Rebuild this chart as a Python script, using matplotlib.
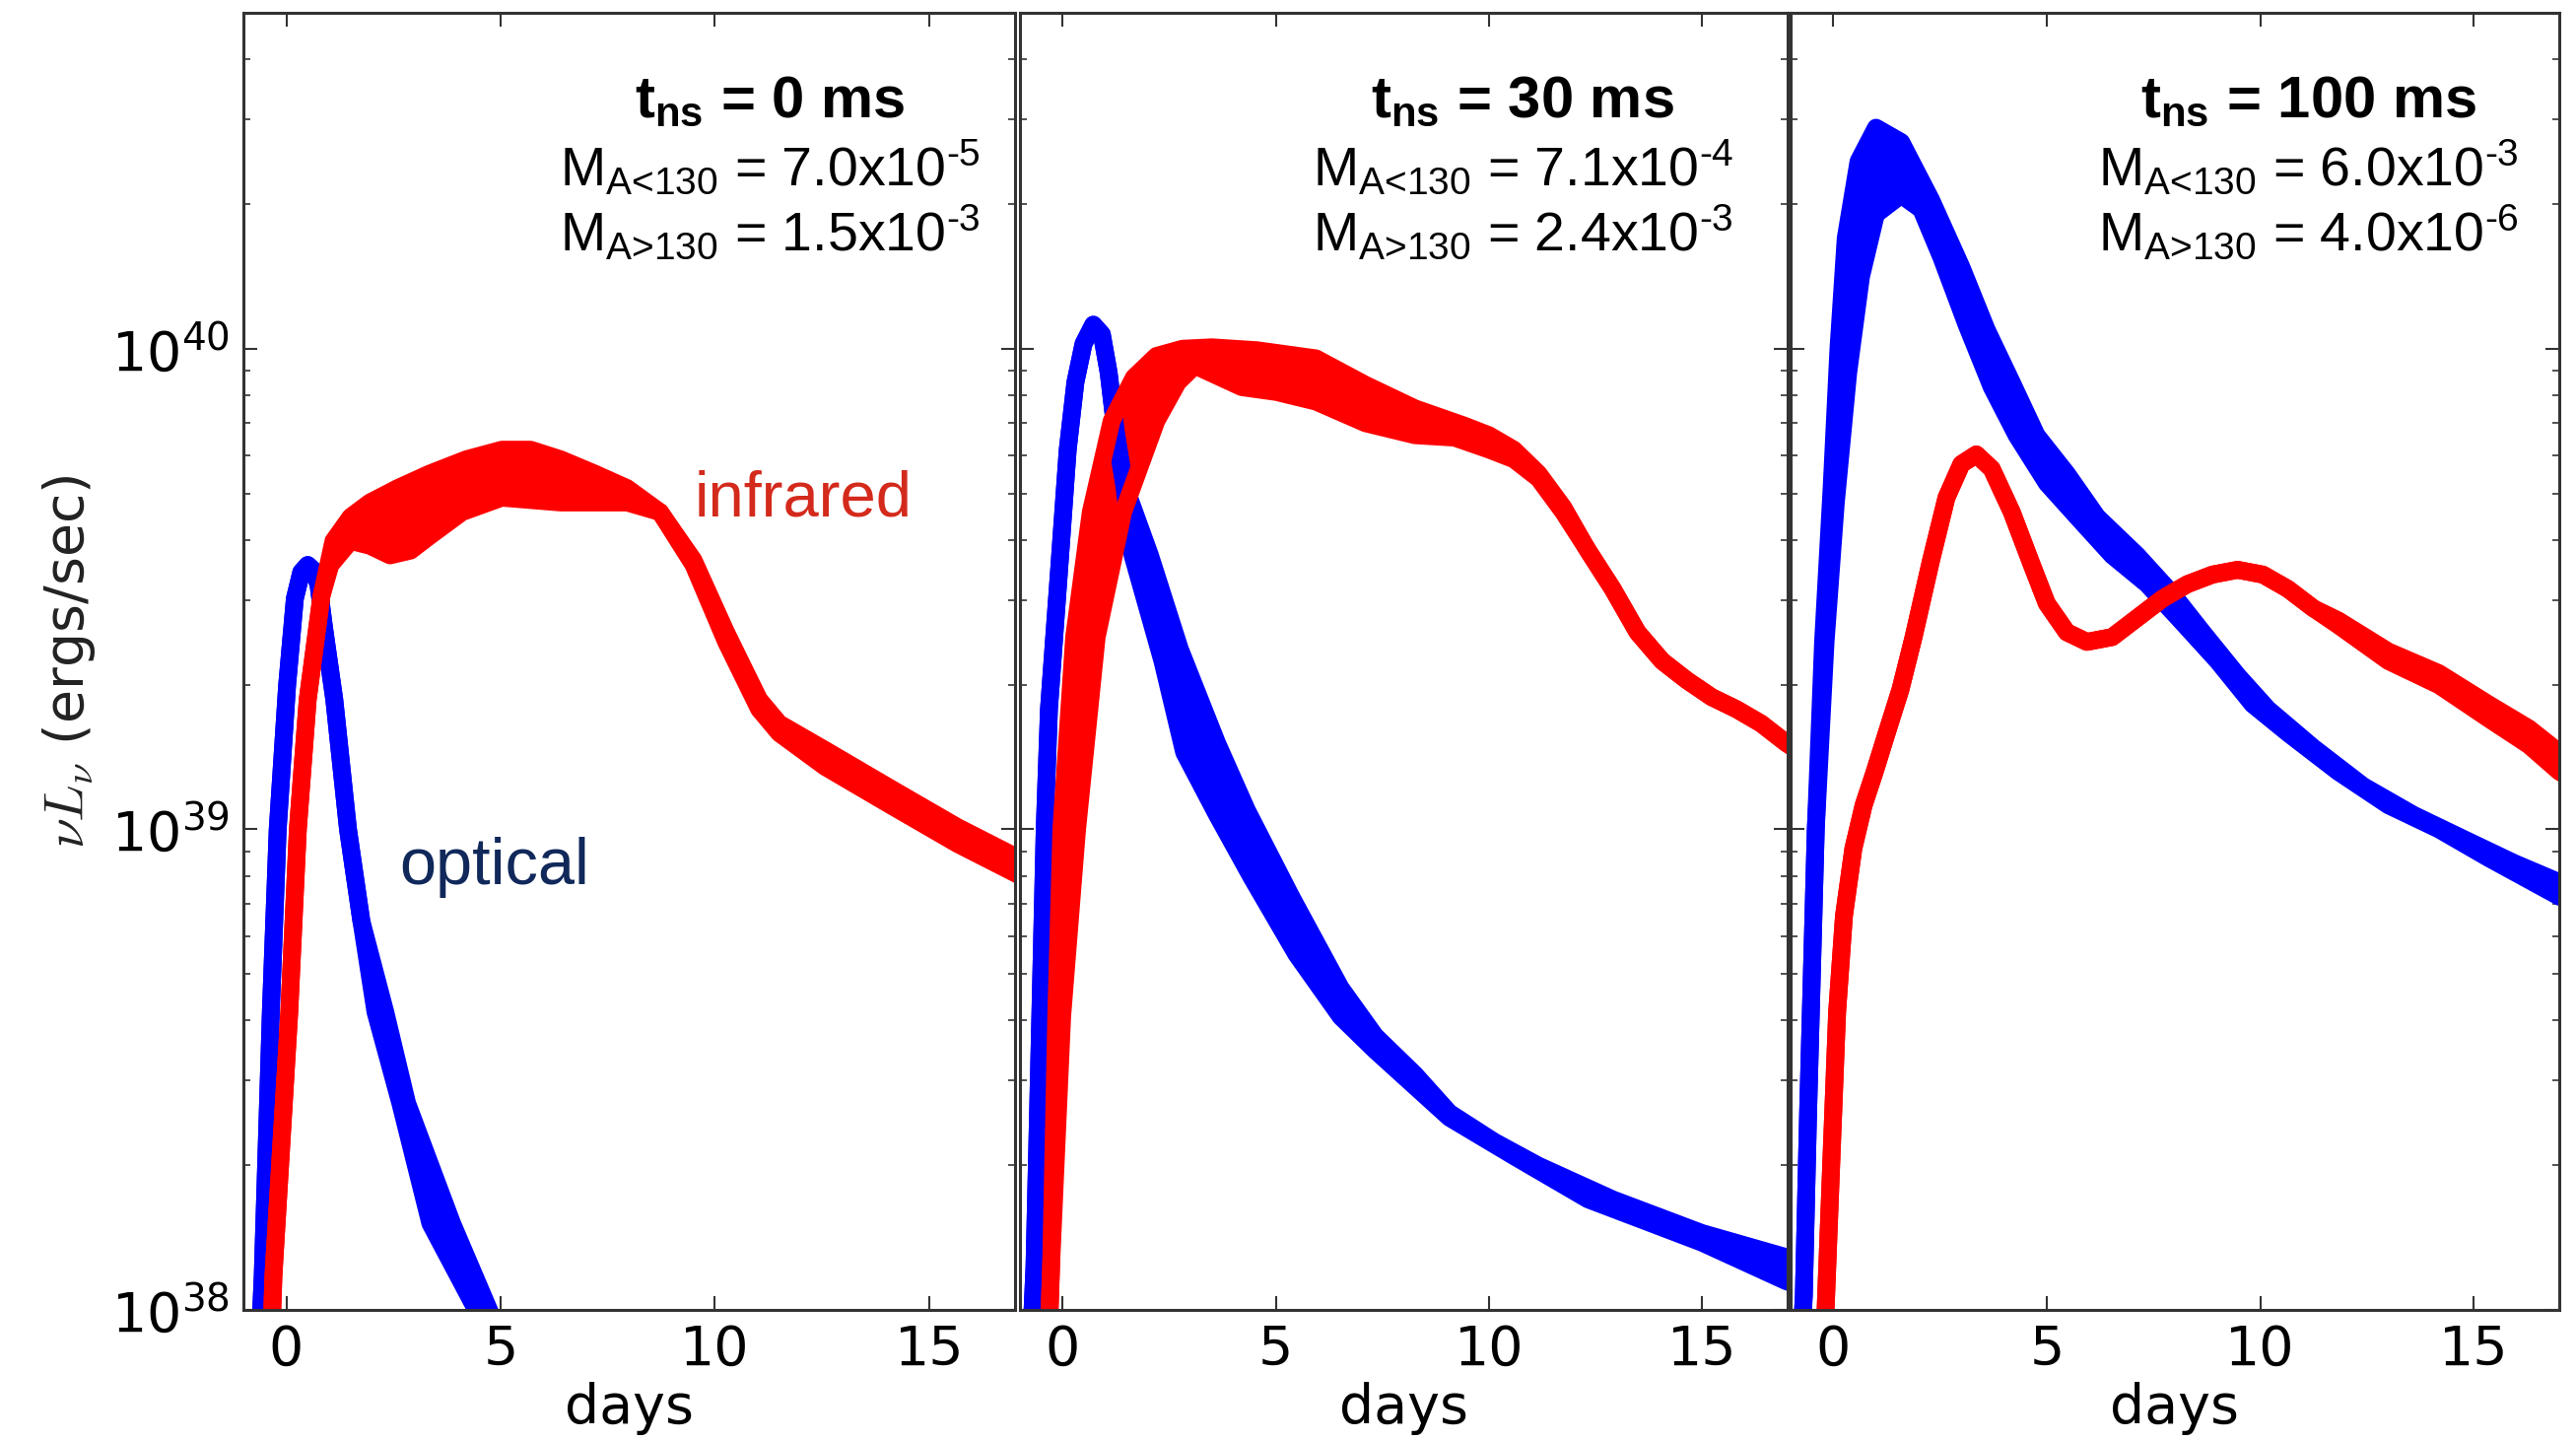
import numpy as np
import matplotlib
matplotlib.use('Agg')
import matplotlib.pyplot as plt
from matplotlib.ticker import FixedLocator

plt.rcParams['mathtext.fontset'] = 'custom'
plt.rcParams['mathtext.rm'] = 'Liberation Sans'
plt.rcParams['mathtext.bf'] = 'Liberation Sans:bold'
plt.rcParams['mathtext.it'] = 'Liberation Sans:italic'

# ---- data: days, log10(nu L_nu) ----
# each band = upper edge curve and lower edge curve

# t_ns = 0 ms
p1_blue_up_x = [-0.66, -0.55, -0.36, -0.2, 0.02, 0.2, 0.35, 0.5, 0.62, 0.75, 0.88, 1.12, 1.44, 1.75, 2.31, 2.82, 3.87, 4.73, 5.2]
p1_blue_up_y = [37.85, 38.07, 38.62, 39.0, 39.3, 39.48, 39.535, 39.55, 39.54, 39.51, 39.42, 39.27, 39.0, 38.81, 38.62, 38.43, 38.18, 38.0, 37.9]
p1_blue_lo_x = [-0.66, -0.55, -0.36, -0.2, 0.02, 0.2, 0.35, 0.5, 0.62, 0.75, 0.88, 1.12, 1.44, 1.75, 2.08, 2.66, 3.36, 4.43, 4.8]
p1_blue_lo_y = [37.85, 38.07, 38.62, 39.0, 39.3, 39.48, 39.535, 39.55, 39.54, 39.51, 39.42, 39.27, 39.0, 38.81, 38.62, 38.43, 38.18, 38.0, 37.9]

p1_red_up_x = [-0.38, -0.30, 0.07, 0.27, 0.5, 0.82, 1.1, 1.5, 1.95, 2.6, 3.34, 4.2, 5.03, 5.7, 6.4, 7.2, 7.95, 8.72, 9.5, 10.26, 11.03, 11.5, 12.57, 14.1, 15.65, 17.3]
p1_red_up_y = [37.85, 38.07, 38.62, 39.0, 39.27, 39.485, 39.60, 39.65, 39.68, 39.71, 39.74, 39.77, 39.79, 39.79, 39.77, 39.74, 39.71, 39.66, 39.56, 39.41, 39.27, 39.22, 39.165, 39.085, 39.005, 38.93]
p1_red_lo_x = [-0.38, -0.30, 0.07, 0.27, 0.5, 0.82, 1.03, 1.5, 1.95, 2.42, 2.9, 3.34, 4.1, 5.03, 6.4, 7.95, 8.72, 9.5, 10.26, 11.03, 11.5, 12.57, 14.1, 15.65, 17.3]
p1_red_lo_y = [37.85, 38.07, 38.62, 39.0, 39.27, 39.485, 39.55, 39.60, 39.59, 39.57, 39.58, 39.61, 39.66, 39.69, 39.68, 39.68, 39.66, 39.55, 39.39, 39.25, 39.20, 39.13, 39.05, 38.97, 38.895]

# t_ns = 30 ms
p2_blue_up_x = [-0.78, -0.66, -0.42, -0.32, -0.09, 0.12, 0.3, 0.49, 0.72, 0.92, 1.08, 1.24, 1.44, 2.05, 2.75, 3.62, 4.32, 5.36, 6.52, 7.33, 8.26, 9.07, 10.12, 11.16, 12.9, 14.99, 16.96, 17.3]
p2_blue_up_y = [37.85, 38.09, 39.0, 39.25, 39.53, 39.79, 39.93, 40.01, 40.05, 40.03, 39.95, 39.83, 39.72, 39.57, 39.375, 39.18, 39.04, 38.86, 38.67, 38.57, 38.49, 38.41, 38.35, 38.30, 38.23, 38.16, 38.11, 38.10]
p2_blue_lo_x = [-0.78, -0.66, -0.42, -0.32, -0.09, 0.12, 0.3, 0.49, 0.72, 0.92, 1.08, 1.24, 1.44, 1.64, 2.34, 2.85, 3.62, 4.43, 5.48, 6.52, 7.33, 9.07, 10.58, 12.32, 14.99, 16.96, 17.3]
p2_blue_lo_y = [37.85, 38.09, 39.0, 39.25, 39.53, 39.79, 39.93, 40.01, 40.05, 40.03, 39.95, 39.83, 39.72, 39.57, 39.35, 39.16, 39.03, 38.90, 38.74, 38.61, 38.54, 38.40, 38.32, 38.23, 38.14, 38.06, 38.05]

p2_red_up_x = [-0.36, -0.27, -0.15, -0.03, 0.27, 0.66, 1.15, 1.67, 2.2, 2.81, 3.50, 4.55, 5.94, 7.10, 8.26, 9.42, 10.0, 10.58, 11.16, 11.74, 12.32, 12.90, 13.48, 14.06, 14.64, 15.22, 15.80, 16.38, 16.96, 17.3]
p2_red_up_y = [37.85, 38.09, 38.61, 39.0, 39.40, 39.66, 39.85, 39.94, 39.985, 40.0, 40.003, 39.997, 39.98, 39.925, 39.876, 39.84, 39.82, 39.79, 39.74, 39.67, 39.58, 39.50, 39.41, 39.35, 39.31, 39.275, 39.25, 39.22, 39.18, 39.16]
p2_red_lo_x = [-0.36, -0.27, -0.01, 0.34, 0.80, 1.42, 2.2, 2.7, 3.1, 4.20, 5.01, 5.94, 7.10, 8.26, 9.19, 10.0, 10.58, 11.16, 11.74, 12.32, 12.90, 13.48, 14.06, 14.64, 15.22, 15.80, 16.38, 16.96, 17.3]
p2_red_lo_y = [37.85, 38.09, 38.61, 39.0, 39.40, 39.66, 39.85, 39.93, 39.965, 39.92, 39.91, 39.89, 39.845, 39.82, 39.815, 39.79, 39.77, 39.73, 39.66, 39.58, 39.50, 39.41, 39.35, 39.31, 39.275, 39.25, 39.22, 39.18, 39.16]

# t_ns = 100 ms
p3_blue_up_x = [-0.8, -0.69, -0.59, -0.41, -0.24, -0.04, 0.12, 0.29, 0.59, 1.0, 1.59, 2.29, 3.0, 3.59, 4.18, 4.76, 5.47, 6.18, 7.12, 7.94, 8.65, 9.47, 10.18, 11.24, 12.41, 13.59, 14.76, 15.94, 17.0, 17.3]
p3_blue_up_y = [37.85, 38.03, 38.41, 39.0, 39.39, 39.71, 40.0, 40.23, 40.39, 40.46, 40.43, 40.31, 40.17, 40.04, 39.93, 39.82, 39.74, 39.65, 39.57, 39.49, 39.41, 39.32, 39.25, 39.17, 39.09, 39.03, 38.98, 38.93, 38.89, 38.88]
p3_blue_lo_x = [-0.8, -0.69, -0.59, -0.41, -0.18, 0.06, 0.35, 0.65, 1.0, 1.59, 2.06, 2.53, 3.12, 3.71, 4.29, 5.0, 5.71, 6.53, 7.35, 8.18, 9.0, 9.82, 10.65, 11.82, 13.0, 14.18, 15.35, 17.0, 17.3]
p3_blue_lo_y = [37.85, 38.03, 38.41, 39.0, 39.39, 39.68, 39.95, 40.15, 40.28, 40.32, 40.29, 40.19, 40.05, 39.92, 39.82, 39.72, 39.65, 39.57, 39.51, 39.43, 39.35, 39.26, 39.20, 39.12, 39.05, 39.0, 38.94, 38.86, 38.85]

p3_red_up_x = [-0.25, -0.18, -0.05, 0.09, 0.25, 0.47, 0.71, 0.97, 1.25, 1.57, 1.88, 2.29, 2.65, 3.0, 3.35, 3.71, 4.18, 4.65, 5.0, 5.47, 5.94, 6.53, 7.12, 7.71, 8.29, 8.88, 9.47, 10.06, 10.65, 11.24, 11.82, 13.0, 14.18, 15.35, 16.29, 17.0, 17.3]
p3_red_up_y = [37.85, 38.0, 38.3, 38.62, 38.82, 38.96, 39.05, 39.12, 39.2, 39.29, 39.40, 39.56, 39.69, 39.76, 39.78, 39.75, 39.66, 39.55, 39.47, 39.41, 39.39, 39.40, 39.44, 39.48, 39.51, 39.53, 39.54, 39.53, 39.50, 39.46, 39.435, 39.37, 39.325, 39.26, 39.21, 39.16, 39.15]
p3_red_lo_x = p3_red_up_x
p3_red_lo_y = [37.85, 38.0, 38.3, 38.62, 38.82, 38.96, 39.05, 39.12, 39.2, 39.29, 39.40, 39.56, 39.69, 39.76, 39.78, 39.75, 39.66, 39.55, 39.47, 39.41, 39.39, 39.40, 39.44, 39.48, 39.51, 39.53, 39.54, 39.53, 39.50, 39.46, 39.425, 39.35, 39.30, 39.23, 39.175, 39.12, 39.105]

titles = ['0', '30', '100']
m_low = ['7.0x10$^{\\text{-5}}$', '7.1x10$^{\\text{-4}}$', '6.0x10$^{\\text{-3}}$']
m_high = ['1.5x10$^{\\text{-3}}$', '2.4x10$^{\\text{-3}}$', '4.0x10$^{\\text{-6}}$']
xticks = [0, 5, 10, 15]

panels = [
    (p1_blue_up_x, p1_blue_up_y, p1_blue_lo_x, p1_blue_lo_y, p1_red_up_x, p1_red_up_y, p1_red_lo_x, p1_red_lo_y),
    (p2_blue_up_x, p2_blue_up_y, p2_blue_lo_x, p2_blue_lo_y, p2_red_up_x, p2_red_up_y, p2_red_lo_x, p2_red_lo_y),
    (p3_blue_up_x, p3_blue_up_y, p3_blue_lo_x, p3_blue_lo_y, p3_red_up_x, p3_red_up_y, p3_red_lo_x, p3_red_lo_y),
]

# layout
W, H = 2614, 1462
lefts = [247, 1035, 1817]
widths = [783, 779, 780]
top_px, bot_px = 13, 1329
text_cx = [0.682, 0.655, 0.674]

fig = plt.figure(figsize=(W / 100, H / 100), dpi=100)

def band(ax, ux, uy, lx, ly, color, lw=13):
    ux, uy, lx, ly = map(np.asarray, (ux, uy, lx, ly))
    ax.fill(np.r_[ux, lx[::-1]], 10 ** np.r_[uy, ly[::-1]], color=color, lw=0)
    for x, y in ((ux, uy), (lx, ly)):
        ax.plot(x, 10 ** y, color=color, lw=lw, solid_capstyle='round', solid_joinstyle='round')

for i, p in enumerate(panels):
    ax = fig.add_axes([lefts[i] / W, 1 - bot_px / H, widths[i] / W, (bot_px - top_px) / H])
    band(ax, p[0], p[1], p[2], p[3], 'blue')
    band(ax, p[4], p[5], p[6], p[7], 'red')
    ax.set_yscale('log')
    ax.set_xlim(-1, 17)
    ax.set_ylim(1e38, 5e40)
    ax.xaxis.set_major_locator(FixedLocator(xticks))
    ax.tick_params(which='both', direction='in', top=True, right=True, colors='#333333')
    ax.tick_params(which='major', length=10, width=1.5, labelsize=40, pad=10, labelcolor='black')
    ax.tick_params(which='minor', length=5, width=1.2)
    for s in ax.spines.values():
        s.set_linewidth(2.2)
        s.set_color('#333333')
    ax.set_xlabel('days', fontsize=40, labelpad=4)
    if i == 0:
        ax.set_ylabel(r'$\nu L_\nu$ (ergs/sec)', fontsize=40, color='#222222', labelpad=10, math_fontfamily='cm')
        ax.text(0.585, 0.612, 'infrared', transform=ax.transAxes, fontsize=47, color='#d42a1c',
                family='Liberation Sans', va='baseline')
        ax.text(0.202, 0.328, 'optical', transform=ax.transAxes, fontsize=48, color='#10285a',
                family='Liberation Sans', va='baseline')
    else:
        ax.tick_params(which='both', labelleft=False)
    ax.text(text_cx[i], 0.9195, r't$_{\mathbf{ns}}$ = ' + titles[i] + ' ms', transform=ax.transAxes,
            fontsize=43, fontweight='bold', family='Liberation Sans', ha='center', va='baseline')
    ax.text(text_cx[i], 0.867, r'M$_{\text{A<130}}$ = ' + m_low[i], transform=ax.transAxes,
            fontsize=40, family='Liberation Sans', ha='center', va='baseline')
    ax.text(text_cx[i], 0.817, r'M$_{\text{A>130}}$ = ' + m_high[i], transform=ax.transAxes,
            fontsize=40, family='Liberation Sans', ha='center', va='baseline')

fig.savefig('out.png', dpi=100)
